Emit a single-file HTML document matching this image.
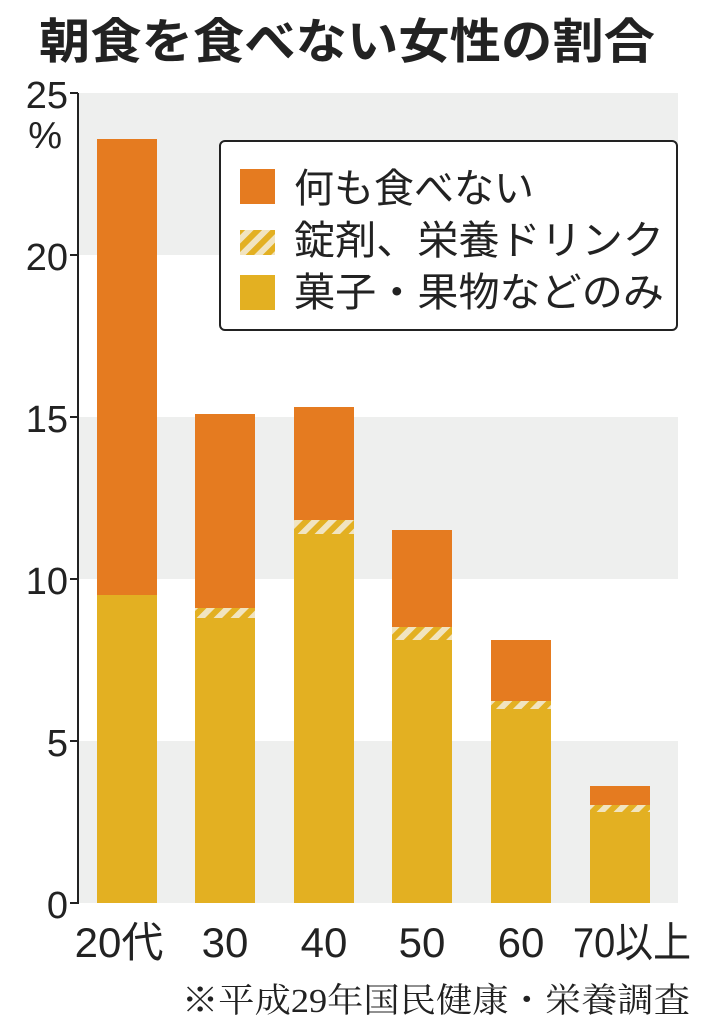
<!DOCTYPE html>
<html><head><meta charset="utf-8"><style>
body{margin:0;background:#fff;width:701px;height:1024px;overflow:hidden}
svg{display:block}
.j{font-family:"Liberation Sans","Noto Sans CJK JP",sans-serif}
</style></head><body>
<svg width="701" height="1024" xmlns="http://www.w3.org/2000/svg">
<defs>
<pattern id="h" patternUnits="userSpaceOnUse" width="12" height="12" patternTransform="rotate(45)">
<rect width="12" height="12" fill="#e3b022"/><rect width="6" height="12" fill="#f1e4c0"/>
</pattern>
</defs>
<text x="347" y="58" text-anchor="middle" class="j" font-size="48" font-weight="bold" fill="#222" textLength="616" lengthAdjust="spacingAndGlyphs">朝食を食べない女性の割合</text>
<rect x="78" y="93" width="600" height="162" fill="#eeefee"/>
<rect x="78" y="417" width="600" height="162" fill="#eeefee"/>
<rect x="78" y="741" width="600" height="162" fill="#eeefee"/>
<g stroke="#222" stroke-width="2">
<line x1="78" y1="93" x2="78" y2="904"/>
<line x1="70" y1="93" x2="78" y2="93"/><line x1="70" y1="255" x2="78" y2="255"/>
<line x1="70" y1="417" x2="78" y2="417"/><line x1="70" y1="579" x2="78" y2="579"/>
<line x1="70" y1="741" x2="78" y2="741"/><line x1="70" y1="903" x2="78" y2="903"/>
</g>
<g class="j" font-size="38" fill="#222" text-anchor="end">
<text x="68" y="108">25</text><text x="62" y="148">%</text>
<text x="68" y="270">20</text><text x="68" y="432">15</text>
<text x="68" y="594">10</text><text x="68" y="756">5</text><text x="68" y="918">0</text>
</g>
<g>
<rect x="97" y="139" width="60" height="456" fill="#e57b20"/><rect x="97" y="595" width="60" height="308" fill="#e3b022"/>
<rect x="195" y="414" width="60" height="194" fill="#e57b20"/><rect x="195" y="608" width="60" height="10" fill="url(#h)"/><rect x="195" y="618" width="60" height="285" fill="#e3b022"/>
<rect x="294" y="407" width="60" height="113" fill="#e57b20"/><rect x="294" y="520" width="60" height="14" fill="url(#h)"/><rect x="294" y="534" width="60" height="369" fill="#e3b022"/>
<rect x="392" y="530" width="60" height="97" fill="#e57b20"/><rect x="392" y="627" width="60" height="13" fill="url(#h)"/><rect x="392" y="640" width="60" height="263" fill="#e3b022"/>
<rect x="491" y="640" width="60" height="61" fill="#e57b20"/><rect x="491" y="701" width="60" height="8" fill="url(#h)"/><rect x="491" y="709" width="60" height="194" fill="#e3b022"/>
<rect x="590" y="786" width="60" height="19" fill="#e57b20"/><rect x="590" y="805" width="60" height="7" fill="url(#h)"/><rect x="590" y="812" width="60" height="91" fill="#e3b022"/>
</g>
<rect x="220" y="141" width="457" height="189" rx="5" fill="#fff" stroke="#222" stroke-width="2"/>
<rect x="240" y="169" width="35" height="35" fill="#e57b20"/>
<rect x="240" y="230" width="35" height="25" fill="url(#h)"/>
<rect x="240" y="275" width="35" height="35" fill="#e3b022"/>
<g class="j" font-size="40" fill="#222">
<text x="294" y="202">何も食べない</text>
<text x="294" y="254" textLength="370" lengthAdjust="spacingAndGlyphs">錠剤、栄養ドリンク</text>
<text x="294" y="306" textLength="370" lengthAdjust="spacingAndGlyphs">菓子・果物などのみ</text>
</g>
<g class="j" font-size="42" fill="#222" text-anchor="middle">
<text x="119" y="957">20代</text><text x="225" y="957">30</text><text x="324" y="957">40</text>
<text x="422" y="957">50</text><text x="521" y="957">60</text><text x="632" y="957" textLength="118" lengthAdjust="spacingAndGlyphs">70以上</text>
</g>
<text x="690" y="1012" text-anchor="end" font-family="'Liberation Serif','Noto Serif CJK SC',serif" font-size="34" fill="#222" textLength="508" lengthAdjust="spacingAndGlyphs">※平成29年国民健康・栄養調査</text>
</svg>
</body></html>
